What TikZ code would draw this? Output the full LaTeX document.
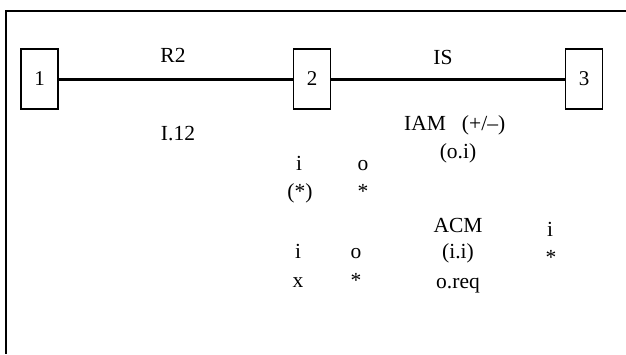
\documentclass[tikz,border=0pt]{standalone}
\usepackage{fontspec}
\setmainfont{Liberation Serif}
\begin{document}
\begin{tikzpicture}[x=1pt,y=-1pt,
  box/.style={draw,line width=1.4pt,minimum width=37pt,minimum height=60pt,inner sep=0pt,font=\fontsize{21}{24}\selectfont},
  lbl/.style={anchor=base,inner sep=0pt,font=\fontsize{21.5}{24}\selectfont},
  link/.style={line width=3pt}]
\useasboundingbox (0,0) rectangle (626,354);
\draw[line width=1.5pt] (626,11) -- (6,11);
\draw[line width=2.2pt] (6,10.25) -- (6,354);
\node[box] (b1) at (39.5,79) {\raisebox{-7pt}{1}};
\node[box] (b2) at (312,79) {\raisebox{-7pt}{2}};
\node[box] (b3) at (584,79) {\raisebox{-7pt}{3}};
\draw[link] (b1) -- (b2);
\draw[link] (b2) -- (b3);
\node[lbl] (r2) at (173,62) {R2};
\node[lbl] (is) at (443,64) {IS};
\node[lbl] (i12) at (178,140) {I.12};
\node[lbl,anchor=base west] (iam) at (404,130) {IAM\hspace{16pt}(+/--)};
\node[lbl] (oi) at (458,158) {(o.i)};
\node[lbl] (i1) at (299,170) {i};
\node[lbl] (o1) at (363,170) {o};
\node[lbl] (s1) at (300,198) {(*)};
\node[lbl] (s2) at (363,198) {*};
\node[lbl] (acm) at (458,232) {ACM};
\node[lbl] (i3) at (550,236) {i};
\node[lbl] (s3) at (551,264) {*};
\node[lbl] (i2) at (298,258) {i};
\node[lbl] (o2) at (356,258) {o};
\node[lbl] (ii) at (458,258) {(i.i)};
\node[lbl] (x) at (298,287) {x};
\node[lbl] (s4) at (356,287) {*};
\node[lbl] (oreq) at (458,288) {o.req};
\end{tikzpicture}
\end{document}
